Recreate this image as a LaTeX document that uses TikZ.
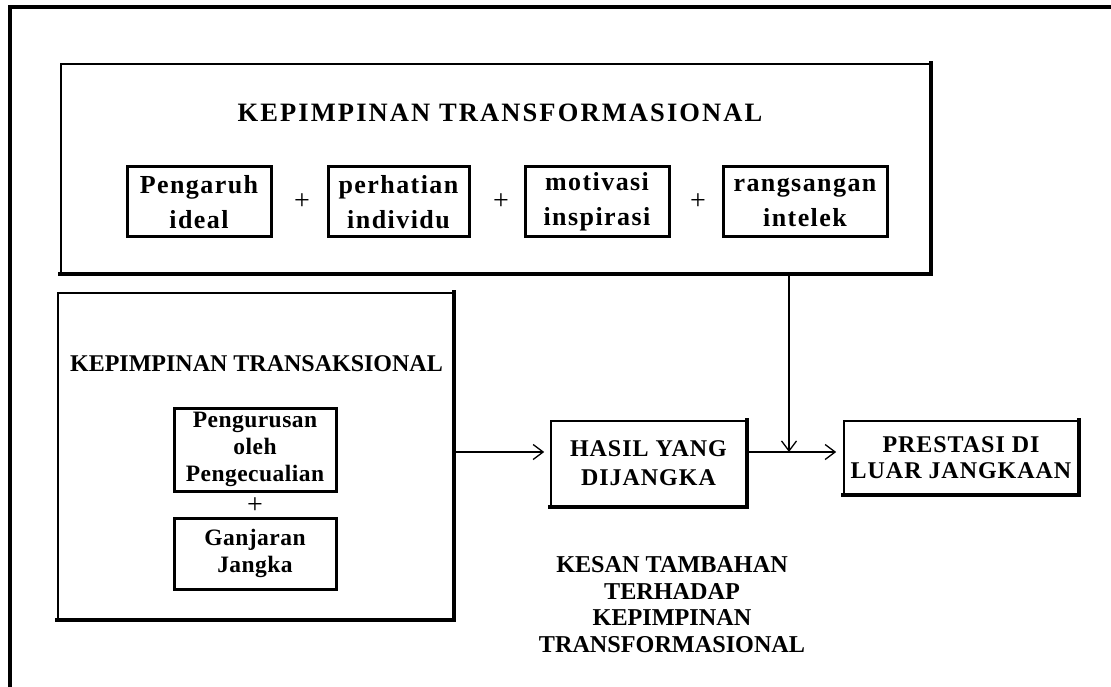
\documentclass[tikz,border=0pt]{standalone}
\usepackage{fontspec}
\setmainfont{Liberation Serif}
\newfontfamily\titlespaced[LetterSpace=8]{Liberation Serif}
\newfontfamily\boxspaced[LetterSpace=5.5]{Liberation Serif}
\newfontfamily\midspaced[LetterSpace=4]{Liberation Serif}
\newfontfamily\lowspaced[LetterSpace=2]{Liberation Serif}
\usetikzlibrary{arrows.meta,calc}

\tikzset{
  panel/.style={draw, line width=1.6pt, inner sep=0pt, align=center},
  factor/.style={draw, line width=3pt, inner sep=0pt, align=center,
    minimum height=70pt, font=\boxspaced\bfseries\fontsize{26}{35}\selectfont},
  subfactor/.style={draw, line width=3pt, inner sep=0pt, align=center,
    minimum width=162pt, font=\lowspaced\bfseries\fontsize{23.5}{26.7}\selectfont},
  plus/.style={inner sep=0pt, font=\fontsize{28}{28}\selectfont},
  conn/.style={line width=1.3pt, -{Straight Barb[length=10pt,width=15pt]}},
  heavy/.style={line width=3.6pt, line cap=rect}
}

\begin{document}
\begin{tikzpicture}[x=1pt,y=-1pt]
\useasboundingbox (0,0) rectangle (1111,687);

% outer frame (top and left edges)
\draw[line width=4pt] (9.5,687) -- (9.5,7.5) -- (1111,7.5);

% transformational leadership panel
\node[panel, minimum width=869pt, minimum height=209pt] (T) at (495.5,168.5) {};
\node[inner sep=0pt, font=\titlespaced\bfseries\fontsize{26.5}{26.5}\selectfont]
  (Ttitle) at (500,113) {KEPIMPINAN TRANSFORMASIONAL};

\node[factor, minimum width=144pt] (f1) at (199,202) {Pengaruh\\ideal};
\node[factor, minimum width=141pt] (f2) at (398.5,202) {perhatian\\individu};
\node[factor, minimum width=144pt] (f3) at (597,202) {motivasi\\inspirasi};
\node[factor, minimum width=164pt] (f4) at (805,202) {rangsangan\\intelek};
\node[plus] (p1) at (302,202) {+};
\node[plus] (p2) at (501,202) {+};
\node[plus] (p3) at (698,202) {+};

% transactional leadership panel
\node[panel, minimum width=395pt, minimum height=326pt] (L) at (255.5,456) {};
\node[inner sep=0pt, font=\bfseries\fontsize{24}{24}\selectfont]
  (Ltitle) at (256.5,363.5) {KEPIMPINAN TRANSAKSIONAL};
\node[subfactor, minimum height=83pt] (s1) at (255,449.5) {Pengurusan\\oleh\\Pengecualian};
\node[plus] (p4) at (255,506) {+};
\node[subfactor, minimum height=71pt] (s2) at (255,553.5) {Ganjaran\\Jangka};

% outcomes
\node[panel, minimum width=195pt, minimum height=85pt,
  font=\midspaced\bfseries\fontsize{24}{29}\selectfont] (H) at (648.5,463.5) {HASIL YANG\\DIJANGKA};
\node[panel, minimum width=234pt, minimum height=73pt,
  font=\midspaced\bfseries\fontsize{24}{26}\selectfont] (R) at (961,457.5) {PRESTASI DI\\LUAR JANGKAAN};

\node[inner sep=0pt, align=center, font=\bfseries\fontsize{24.2}{26.7}\selectfont]
  (K) at (672,604.5) {KESAN TAMBAHAN\\TERHADAP\\KEPIMPINAN\\TRANSFORMASIONAL};

% heavier right and bottom edges of the panels
\foreach \n in {T,L,H,R}
  \draw[heavy] (\n.north east) -- (\n.south east) -- (\n.south west);

% connectors
\coordinate (J) at (789,452);
\draw[conn] (T.south -| J) -- (J);
\draw[conn, shorten >=6pt] (L.east |- J) -- (H.west |- J);
\draw[conn, shorten >=7pt] (H.east |- J) -- (R.west |- J);
\end{tikzpicture}
\end{document}
